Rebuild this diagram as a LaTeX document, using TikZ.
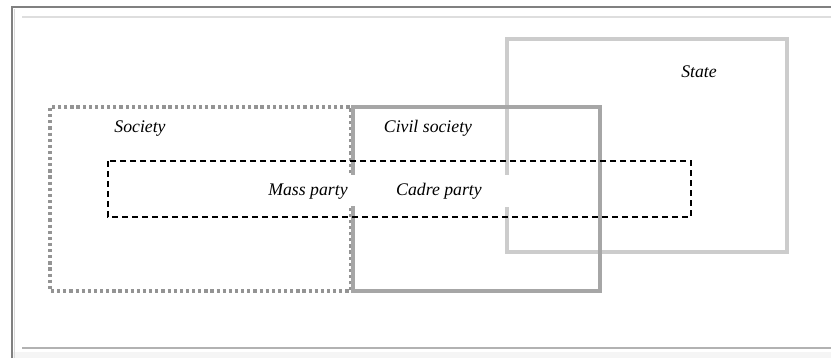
\documentclass[tikz,border=0pt]{standalone}
\usepackage{fontspec}
\setmainfont{Liberation Serif}
\begin{document}
\begin{tikzpicture}[x=0.75pt,y=-0.75pt,
  lbl/.style={font=\fontsize{13.3}{15}\selectfont\itshape, inner sep=0pt, anchor=base},
  statebox/.style={draw=black!20, line width=2.3pt, line cap=rect},
  civilbox/.style={draw=black!35, line width=2.3pt, line cap=rect},
  societybox/.style={draw=black!42, line width=2.4pt, dash pattern=on 2.4pt off 2.2pt},
  partybox/.style={draw=black, line width=1.1pt, dash pattern=on 4.5pt off 3pt},
  frameline/.style={line width=2pt}]
\useasboundingbox (0,0) rectangle (831,358);
% screenshot frame
\fill[black!4] (11,352) rectangle (831,358);
\draw[frameline, draw=black!50] (12,358) -- (12,7) -- (831,7);
\draw[line width=1pt, draw=black!15] (14.5,358) -- (14.5,9);
\draw[line width=1pt, draw=black!13] (22,17) -- (831,17);
\draw[line width=1pt, draw=black!30] (22,348) -- (831,348);
% coordinates
\coordinate (sTL) at (507,39); \coordinate (sBR) at (787,252);
\coordinate (cTL) at (353,107); \coordinate (cBR) at (600,291);
\coordinate (pTL) at (108,161); \coordinate (pBR) at (691,217);
% State
\draw[statebox] (507,173) -- (sTL) -| (sBR) -- (507,252) -- (507,209);
% Society (dotted)
\draw[societybox] (351,173) -- (351,107) -- (50,107) -- (50,291) -- (351,291) -- (351,208);
% Civil society
\draw[civilbox] (353,173) -- (cTL) -| (cBR) -- (353,291) -- (353,208);
% Party box
\draw[partybox] (pTL) rectangle (pBR);
% labels
\node[lbl] (state) at (699,77) {State};
\node[lbl] (society) at (140,132) {Society};
\node[lbl] (civil) at (428,132) {Civil society};
\node[lbl] (mass) at (308,195) {Mass party};
\node[lbl] (cadre) at (439,195) {Cadre party};
\end{tikzpicture}
\end{document}
